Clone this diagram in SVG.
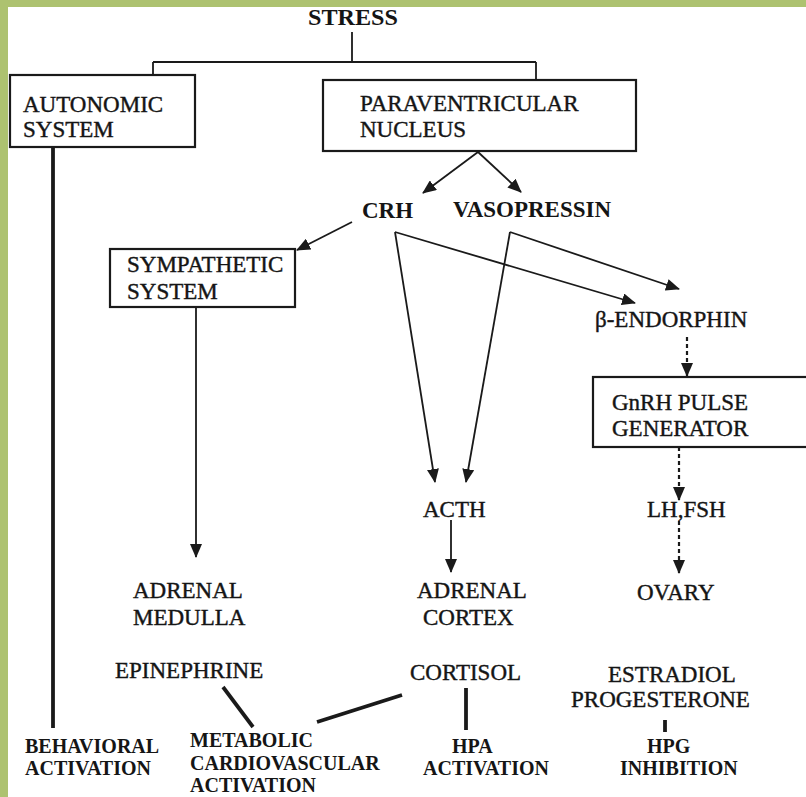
<svg xmlns="http://www.w3.org/2000/svg" width="806" height="797" viewBox="0 0 806 797">
<defs>
<style>
.t{font-family:"Liberation Serif","Times New Roman",serif;font-size:23px;fill:#151515;stroke:#151515;stroke-width:0.4}
.b{font-family:"Liberation Serif","Times New Roman",serif;font-size:23px;font-weight:bold;fill:#151515}
.s{font-family:"Liberation Serif","Times New Roman",serif;font-size:20px;font-weight:bold;fill:#151515}
.box{fill:none;stroke:#1a1a1a;stroke-width:2.2}
.ln{fill:none;stroke:#1a1a1a;stroke-width:1.8}
.ar{fill:none;stroke:#1a1a1a;stroke-width:1.8;marker-end:url(#ah)}
.da{fill:none;stroke:#1a1a1a;stroke-width:2.2;stroke-dasharray:4 3;marker-end:url(#ah)}
.th{fill:none;stroke:#1a1a1a;stroke-width:3.8}
</style>
<marker id="ah" markerUnits="userSpaceOnUse" markerWidth="14" markerHeight="12" refX="13" refY="6" orient="auto">
<path d="M0,0 L14,6 L0,12 z" fill="#1a1a1a"/>
</marker>
</defs>
<rect x="0" y="0" width="806" height="797" fill="#ffffff"/>
<rect x="0" y="0" width="806" height="7" fill="#adc270"/>
<rect x="0" y="0" width="8" height="797" fill="#adc270"/>

<g id="connectors">
<path class="ln" d="M352,32 V62 M153,62 H536 M153,62 V75 M536,62 V80"/>
<line class="th" x1="53" y1="147" x2="53" y2="728" stroke-width="3"/>
<line class="ar" x1="478" y1="152" x2="423" y2="193"/>
<line class="ar" x1="478" y1="152" x2="521" y2="192"/>
<line class="ar" x1="352" y1="222" x2="297" y2="250"/>
<line class="ar" x1="395" y1="232" x2="435" y2="482"/>
<line class="ar" x1="395" y1="232" x2="635" y2="303"/>
<line class="ar" x1="510" y1="232" x2="466" y2="482"/>
<line class="ar" x1="510" y1="232" x2="679" y2="289"/>
<line class="da" x1="687" y1="337" x2="687" y2="376"/>
<line class="da" x1="679" y1="447" x2="679" y2="500"/>
<line class="da" x1="679" y1="521" x2="679" y2="573"/>
<line class="ar" x1="451" y1="520" x2="451" y2="572"/>
<line class="ar" x1="196" y1="307" x2="196" y2="557"/>
<line class="th" x1="223" y1="687" x2="253" y2="727"/>
<line class="th" x1="402" y1="695" x2="317" y2="722"/>
<line class="th" x1="466" y1="688" x2="466" y2="730"/>
<line class="th" x1="665" y1="720" x2="665" y2="732"/>
</g>

<g id="stress"><text class="b" x="353" y="25" text-anchor="middle" font-size="20" textLength="90" lengthAdjust="spacingAndGlyphs">STRESS</text></g>
<g id="autonomic">
<rect class="box" x="10" y="75" width="185" height="72"/>
<text class="t" x="23" y="112">AUTONOMIC</text>
<text class="t" x="23" y="137">SYSTEM</text>
</g>
<g id="pvn">
<rect class="box" x="323" y="80" width="313" height="71"/>
<text class="t" x="360" y="111">PARAVENTRICULAR</text>
<text class="t" x="360" y="137">NUCLEUS</text>
</g>
<g id="crh"><text class="b" x="362" y="218">CRH</text></g>
<g id="vasopressin"><text class="b" x="453" y="217">VASOPRESSIN</text></g>
<g id="sympathetic">
<rect class="box" x="110" y="249" width="185" height="58"/>
<text class="t" x="127" y="272">SYMPATHETIC</text>
<text class="t" x="127" y="299">SYSTEM</text>
</g>
<g id="endorphin"><text class="t" x="595" y="327">β-ENDORPHIN</text></g>
<g id="gnrh">
<rect class="box" x="593" y="377" width="230" height="70"/>
<text class="t" x="612" y="410">GnRH PULSE</text>
<text class="t" x="612" y="436">GENERATOR</text>
</g>
<g id="acth"><text class="t" x="423" y="517">ACTH</text></g>
<g id="lhfsh"><text class="t" x="647" y="517">LH,FSH</text></g>
<g id="medulla">
<text class="t" x="133" y="598">ADRENAL</text>
<text class="t" x="133" y="625">MEDULLA</text>
</g>
<g id="cortex">
<text class="t" x="417" y="598">ADRENAL</text>
<text class="t" x="423" y="625">CORTEX</text>
</g>
<g id="ovary"><text class="t" x="637" y="600">OVARY</text></g>
<g id="epinephrine"><text class="t" x="115" y="678">EPINEPHRINE</text></g>
<g id="cortisol"><text class="t" x="410" y="680">CORTISOL</text></g>
<g id="estradiol">
<text class="t" x="608" y="682">ESTRADIOL</text>
<text class="t" x="571" y="707">PROGESTERONE</text>
</g>
<g id="behavioral">
<text class="s" x="25" y="753">BEHAVIORAL</text>
<text class="s" x="25" y="775">ACTIVATION</text>
</g>
<g id="metabolic">
<text class="s" x="190" y="747" font-size="19.5">METABOLIC</text>
<text class="s" x="190" y="769.5" font-size="19.5">CARDIOVASCULAR</text>
<text class="s" x="190" y="792" font-size="19.5">ACTIVATION</text>
</g>
<g id="hpa">
<text class="s" x="452" y="753">HPA</text>
<text class="s" x="423" y="775">ACTIVATION</text>
</g>
<g id="hpg">
<text class="s" x="647" y="753">HPG</text>
<text class="s" x="620" y="775">INHIBITION</text>
</g>
</svg>
